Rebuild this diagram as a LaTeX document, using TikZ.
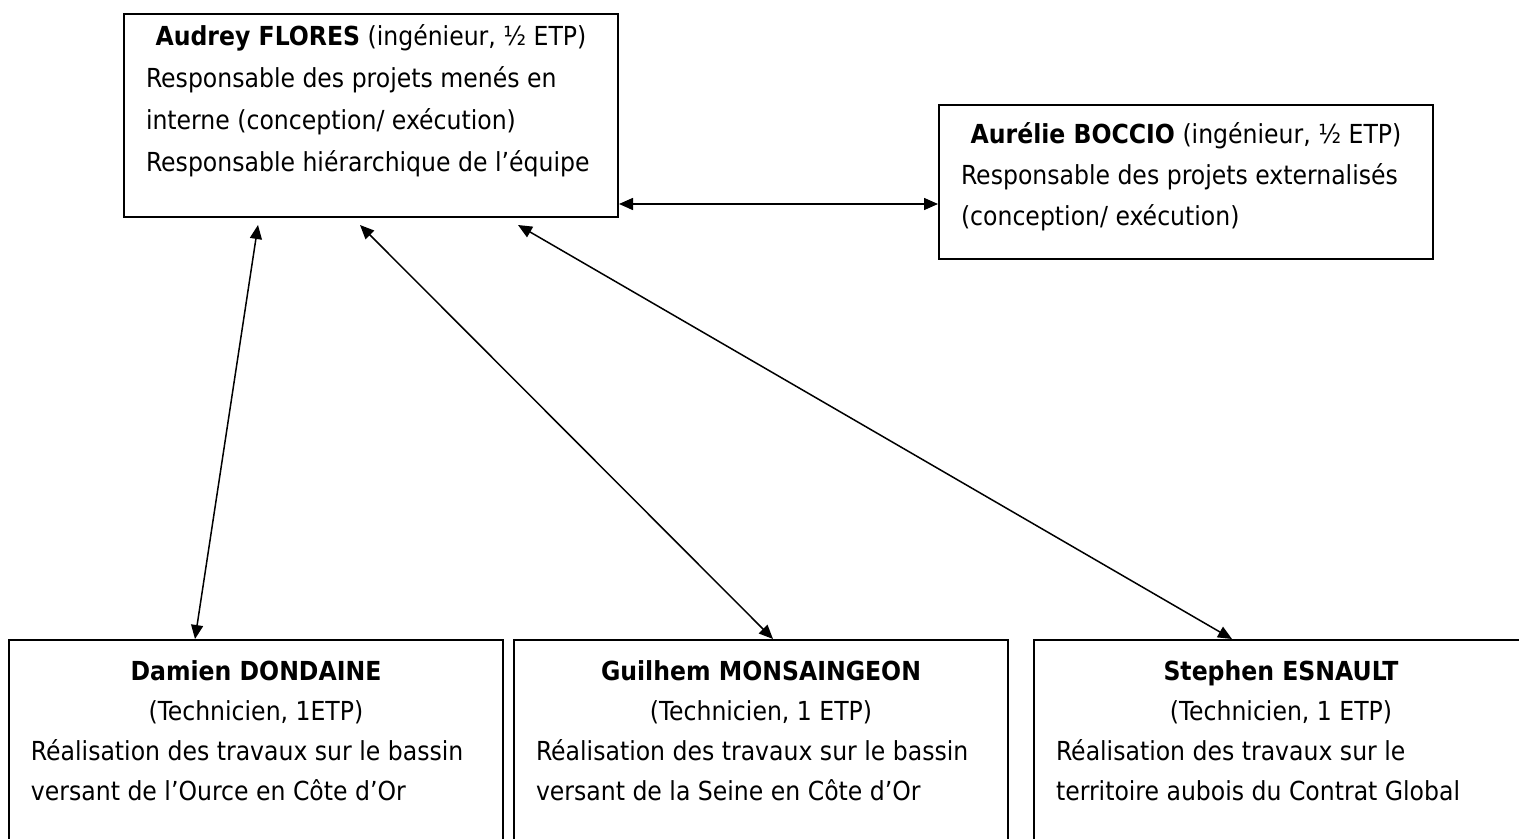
\documentclass[tikz,border=0pt]{standalone}
\usepackage{fontspec}
\setmainfont{DejaVu Sans Condensed}
\usetikzlibrary{arrows.meta,positioning}

\tikzset{
	person/.style={draw, line width=1pt, inner sep=0pt, anchor=north west},
	link/.style={{Triangle[length=7pt,width=6pt]}-{Triangle[length=7pt,width=6pt]}, line width=0.75pt}
}
% box contents: height, first baseline, line skip, text
\newcommand{\fiche}[4]{\parbox[c][#1][t]{247pt}{\fontsize{13.1pt}{#3}\selectfont\setlength{\parindent}{0pt}\leftskip=11pt\rightskip=0pt plus 1fil\leavevmode\rule{0pt}{#2}#4}}
\newcommand{\titre}[1]{\hspace*{-11pt}\makebox[247pt]{#1}\par}

\begin{document}
\begin{tikzpicture}[x=0.5pt,y=-0.5pt]
	\useasboundingbox (0,0) rectangle (1519,839);
	% top row
	\node[person] (flores) at (123,13) {\fiche{101.5pt}{16pt}{21pt}{%
		\titre{\textbf{Audrey FLORES} (ingénieur, ½ ETP)}
		Responsable des projets menés en\\
		interne (conception/ exécution)\\
		Responsable hiérarchique de l’équipe}};
	\node[person] (boccio) at (938,104) {\fiche{77pt}{19.5pt}{20.5pt}{%
		\titre{\textbf{Aurélie BOCCIO} (ingénieur, ½ ETP)}
		Responsable des projets externalisés\\
		(conception/ exécution)}};
	% bottom row
	\node[person] (dondaine) at (8,639) {\fiche{120pt}{20pt}{20pt}{%
		\titre{\textbf{Damien DONDAINE}}
		\titre{(Technicien, 1ETP)}
		Réalisation des travaux sur le bassin\\
		versant de l’Ource en Côte d’Or}};
	\node[person] (monsaingeon) at (513,639) {\fiche{120pt}{20pt}{20pt}{%
		\titre{\textbf{Guilhem MONSAINGEON}}
		\titre{(Technicien, 1 ETP)}
		Réalisation des travaux sur le bassin\\
		versant de la Seine en Côte d’Or}};
	\node[person] (esnault) at (1033,639) {\fiche{120pt}{20pt}{20pt}{%
		\titre{\textbf{Stephen ESNAULT}}
		\titre{(Technicien, 1 ETP)}
		Réalisation des travaux sur le\\
		territoire aubois du Contrat Global}};
	% links
	\draw[link] ([yshift=7pt]flores.south east) -- ([yshift=7pt]flores.south east -| boccio.west);
	\draw[link] ([xshift=67.5pt,yshift=-3.5pt]flores.south west) -- ([xshift=93.5pt]dondaine.north west);
	\draw[link] ([xshift=118.5pt,yshift=-3.5pt]flores.south west) -- ([xshift=130pt]monsaingeon.north west);
	\draw[link] ([xshift=197.5pt,yshift=-3.5pt]flores.south west) -- ([xshift=99.5pt]esnault.north west);
\end{tikzpicture}
\end{document}
